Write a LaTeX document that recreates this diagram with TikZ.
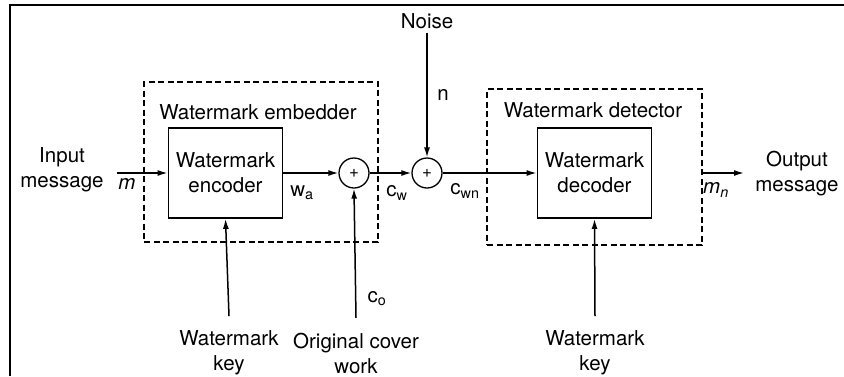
\documentclass[tikz,border=0pt]{standalone}
\usepackage{fontspec}
\setmainfont{TeX Gyre Heros}
\usetikzlibrary{arrows.meta}
\begin{document}
\begin{tikzpicture}[x=1pt,y=-1pt,>={Latex[length=10pt,width=6pt]},line width=1.5pt,
  every node/.style={font=\fontsize{20.5}{25}\selectfont},
  block/.style={draw,line width=1.8pt,minimum width=114pt,minimum height=90pt,align=center,inner sep=0pt},
  summer/.style={draw,circle,line width=1.3pt,minimum size=30pt,inner sep=0pt,font=\fontsize{17}{17}\selectfont},
  dashbox/.style={draw,line width=1.8pt,dash pattern=on 6pt off 3.5pt,inner sep=0pt},
  lbl/.style={align=center,inner ysep=14pt}]
\useasboundingbox (0,0) rectangle (844,376);
\draw[line width=2pt] (10,376) -- (10,5) -- (844,5);
% boxes
\node[dashbox,minimum width=234pt,minimum height=160pt] (emb) at (261,162) {};
\node[dashbox,minimum width=215pt,minimum height=156pt] (det) at (594.5,167) {};
\node at (258,112) {Watermark embedder};
\node at (593,110) {Watermark detector};
\node[block] (enc) at (225.5,173) {Watermark\\encoder};
\node[block] (dec) at (594.5,173) {Watermark\\decoder};
\node[summer] (sumA) at (354,173) {+};
\node[summer] (sumB) at (427,173) {+};
% inputs and outputs
\node[align=center] (inmsg) at (62,170) {Input\\message};
\node at (127,184) {\itshape m};
\coordinate (inA) at (117,173);
\node (noise) at (427,21) {Noise};
\node[lbl] (keyA) at (229,353) {Watermark\\key};
\node[lbl] (cover) at (356,353) {Original cover\\work};
\node[lbl] (keyB) at (595,353) {Watermark\\key};
\coordinate (outA) at (det.east |- dec);
\coordinate (outB) at (744,173);
\node[align=center] (outmsg) at (797,174) {Output\\message};
% connectors
\draw[->] (inA) -- (enc.west);
\draw[->] (enc.east) -- (sumA.west);
\draw[->] (sumA.east) -- (sumB.west);
\draw[->] (sumB.east) -- (dec.west);
\draw[->] (noise.south) -- (sumB.north);
\draw[->] (outA) -- (outB);
\draw[->] (keyA.north) -- (enc.south);
\draw[->] (cover.north) -- (sumA.south);
\draw[->] (keyB.north) -- (dec.south);
% signal labels
\node at (302,193) {w\textsubscript{a}};
\node at (397,193) {c\textsubscript{w}};
\node at (465,191) {c\textsubscript{wn}};
\node at (443,95) {n};
\node at (377,299) {c\textsubscript{o}};
\node at (716,190) {\itshape m\textsubscript{n}};
\end{tikzpicture}
\end{document}
